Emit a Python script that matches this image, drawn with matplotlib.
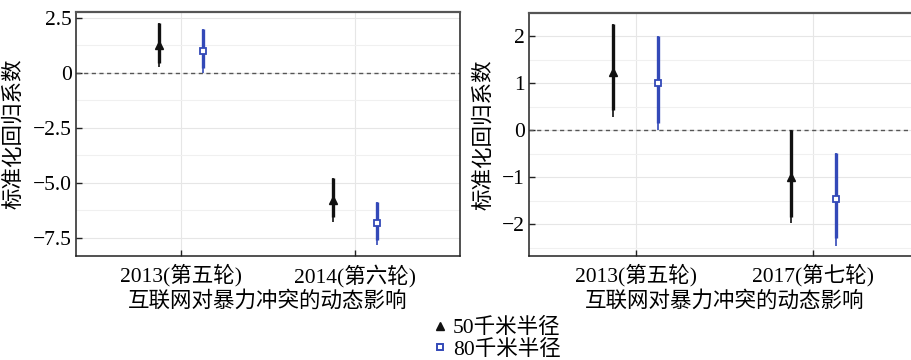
import matplotlib
matplotlib.use("Agg")
import matplotlib.pyplot as plt
from matplotlib.lines import Line2D
from matplotlib.ticker import MultipleLocator
import numpy as np

FAM = ['Liberation Serif', 'Noto Sans CJK SC']
plt.rcParams['font.family'] = FAM
plt.rcParams['axes.unicode_minus'] = True

# ---- data ----
left_categories = ['2013(第五轮)', '2014(第六轮)']
right_categories = ['2013(第五轮)', '2017(第七轮)']
series_names = ['50千米半径', '80千米半径']

# point, thick-lower, thin-lower, upper
left_50_point = [1.27, -5.77]
left_50_lo_thick = [0.45, -6.55]
left_50_lo_thin = [0.27, -6.77]
left_50_hi = [2.27, -4.77]
left_80_point = [1.00, -6.82]
left_80_lo_thick = [0.23, -7.59]
left_80_lo_thin = [0.00, -7.82]
left_80_hi = [2.00, -5.86]

right_50_point = [1.23, -1.00]
right_50_lo_thick = [0.43, -1.85]
right_50_lo_thin = [0.28, -1.98]
right_50_hi = [2.26, 0.00]
right_80_point = [1.00, -1.47]
right_80_lo_thick = [0.15, -2.30]
right_80_lo_thin = [0.00, -2.47]
right_80_hi = [2.00, -0.49]

left_yticks = [2.5, 0, -2.5, -5.0, -7.5]
left_yticklabels = ['2.5', '0', '\u22122.5', '\u22125.0', '\u22127.5']
right_yticks = [2, 1, 0, -1, -2]
right_yticklabels = ['2', '1', '0', '\u22121', '\u22122']

BLACK = '#111111'
BLUE = '#3349b8'
FS = 15.5

fig = plt.figure(figsize=(9.12, 3.6), dpi=100)
axL = fig.add_axes([76/912, 1-256/360, (460-76)/912, (256-12)/360])
axR = fig.add_axes([529/912, 1-256/360, (920-529)/912, (256-13)/360])


def draw(ax, cats, s50, s80, yticks, ylabels, ylim, minor):
    x = np.arange(1, len(cats) + 1)
    off = 0.125
    for (pt, lo_thick, lo_thin, hi), dx, color, marker in [
        (s50, -off, BLACK, '^'),
        (s80, off, BLUE, 's'),
    ]:
        xs = x + dx
        ax.vlines(xs, lo_thin, hi, color=color, lw=1.2, zorder=3)
        ax.vlines(xs, lo_thick, hi, color=color, lw=2.4, zorder=3)
        if marker == '^':
            ax.plot(xs, pt, linestyle='none', marker='^', ms=6, color=color,
                    mec=color, zorder=4)
        else:
            ax.plot(xs, pt, linestyle='none', marker='s', ms=5, mfc='white',
                    mec=color, mew=1.3, zorder=4)
    ax.axhline(0, color='#555555', lw=1.0, linestyle=(0, (3, 2.5)), zorder=2)
    ax.set_xlim(0.4, 2.6)
    ax.set_ylim(*ylim)
    ax.set_xticks(x)
    ax.set_xticklabels(cats, fontsize=FS)
    ax.set_yticks(yticks)
    ax.set_yticklabels(ylabels, fontsize=FS)
    ax.yaxis.set_minor_locator(MultipleLocator(minor))
    ax.grid(True, which='major', color='#e6e6e6', lw=0.8, zorder=0)
    ax.grid(True, which='minor', axis='y', color='#f0f0f0', lw=0.8, zorder=0)
    ax.set_axisbelow(True)
    ax.tick_params(axis='both', which='major', direction='in', length=4,
                   width=1, color='#222222', pad=3)
    ax.tick_params(axis='x', which='major', pad=6)
    ax.tick_params(axis='y', which='minor', length=0)
    for s in ['left', 'bottom', 'right']:
        ax.spines[s].set_color('#222222')
        ax.spines[s].set_linewidth(1.1)
    ax.spines['top'].set_color('#555555')
    ax.spines['top'].set_linewidth(1.6)
    ax.set_ylabel('标准化回归系数', fontsize=FS, labelpad=6)
    ax.set_xlabel('互联网对暴力冲突的动态影响', fontsize=FS, labelpad=3)


draw(axL, left_categories,
     (left_50_point, left_50_lo_thick, left_50_lo_thin, left_50_hi),
     (left_80_point, left_80_lo_thick, left_80_lo_thin, left_80_hi),
     left_yticks, left_yticklabels, (-8.32, 2.77), 1.25)
draw(axR, right_categories,
     (right_50_point, right_50_lo_thick, right_50_lo_thin, right_50_hi),
     (right_80_point, right_80_lo_thick, right_80_lo_thin, right_80_hi),
     right_yticks, right_yticklabels, (-2.68, 2.49), 0.5)

handles = [
    Line2D([], [], linestyle='none', marker='^', ms=6, color=BLACK),
    Line2D([], [], linestyle='none', marker='s', ms=5, mfc='white',
           mec=BLUE, mew=1.4),
]
fig.legend(handles, series_names, loc='center', bbox_to_anchor=(497/912, 1-339/360),
           frameon=False, fontsize=FS, handlelength=0.6, handletextpad=0.3,
           labelspacing=0.05, borderpad=0.1)

fig.savefig('out.png', dpi=100)
